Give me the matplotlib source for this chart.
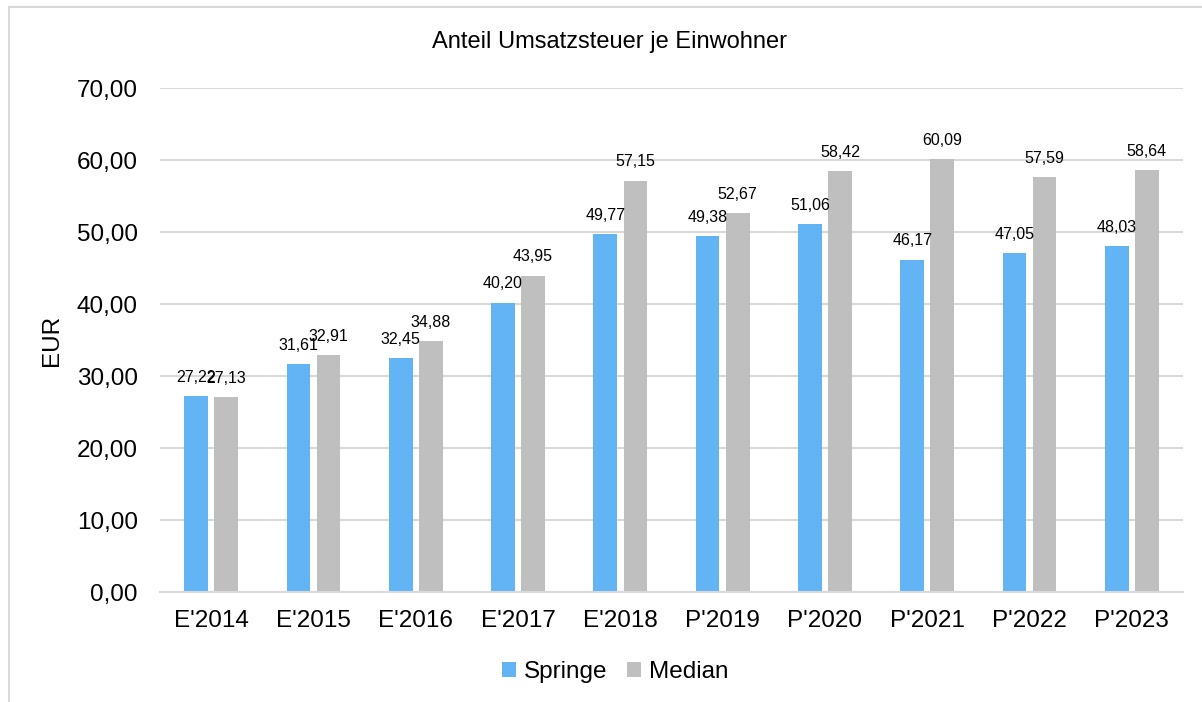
import numpy as np
import matplotlib.pyplot as plt
from matplotlib.lines import Line2D

plt.rcParams['font.family'] = ['Liberation Sans', 'DejaVu Sans']

# Daten
kategorien = ["E'2014", "E'2015", "E'2016", "E'2017", "E'2018",
              "P'2019", "P'2020", "P'2021", "P'2022", "P'2023"]
springe = [27.22, 31.61, 32.45, 40.20, 49.77, 49.38, 51.06, 46.17, 47.05, 48.03]
median = [27.13, 32.91, 34.88, 43.95, 57.15, 52.67, 58.42, 60.09, 57.59, 58.64]

farbe_springe = '#63B4F5'
farbe_median = '#BFBFBF'


def fmt(v):
    return f"{v:.2f}".replace('.', ',')


fig = plt.figure(figsize=(12.02, 7.02), dpi=100)
ax = fig.add_axes([160/1202, 1 - 592/702, 1023/1202, 504/702])

x = np.arange(len(kategorien))
w = 0.232
off = 0.147
b1 = ax.bar(x - off, springe, w, color=farbe_springe, label='Springe')
b2 = ax.bar(x + off, median, w, color=farbe_median, label='Median')

# Datenbeschriftung (27,22 / 27,13 ueberlappen auch im Original)
for xi, v in zip(x, springe):
    ax.annotate(fmt(v), (xi - off, v), xytext=(0, 8), textcoords='offset points',
                ha='center', va='bottom', fontsize=11.5)
for xi, v in zip(x, median):
    ax.annotate(fmt(v), (xi + off, v), xytext=(0, 8), textcoords='offset points',
                ha='center', va='bottom', fontsize=11.5)

ax.set_xlim(-0.5, len(kategorien) - 0.5)
ax.set_ylim(0, 70)
ax.set_yticks(np.arange(0, 71, 10))
ax.set_yticklabels([fmt(t) for t in np.arange(0, 71, 10)])
ax.set_xticks(x)
ax.set_xticklabels(kategorien)
ax.tick_params(axis='both', length=0, labelsize=17.5)
ax.tick_params(axis='x', pad=13)
ax.tick_params(axis='y', pad=16)
ax.yaxis.grid(True, color='#D9D9D9', linewidth=1.5)
ax.set_axisbelow(True)
for s in ['top', 'right', 'left']:
    ax.spines[s].set_visible(False)
ax.spines['bottom'].set_color('#D9D9D9')
ax.spines['bottom'].set_linewidth(1.5)

ax.set_ylabel('EUR', fontsize=17.5, labelpad=10)
fig.text(610/1202, 1 - 42/702, 'Anteil Umsatzsteuer je Einwohner', ha='center', va='center', fontsize=17)

fig.legend(handles=[b1, b2], loc='center', bbox_to_anchor=(615/1202, 1 - 672/702), ncol=2,
           frameon=False, fontsize=17.5, handlelength=0.6, handleheight=0.6,
           handletextpad=0.3, columnspacing=0.8)

# Rahmen
fig.add_artist(Line2D([9/1202, 9/1202], [0, 1 - 7/702], color='#D9D9D9', lw=1.5, transform=fig.transFigure))
fig.add_artist(Line2D([9/1202, 1], [1 - 7/702, 1 - 7/702], color='#D9D9D9', lw=1.5, transform=fig.transFigure))

fig.savefig('out.png', dpi=100)
